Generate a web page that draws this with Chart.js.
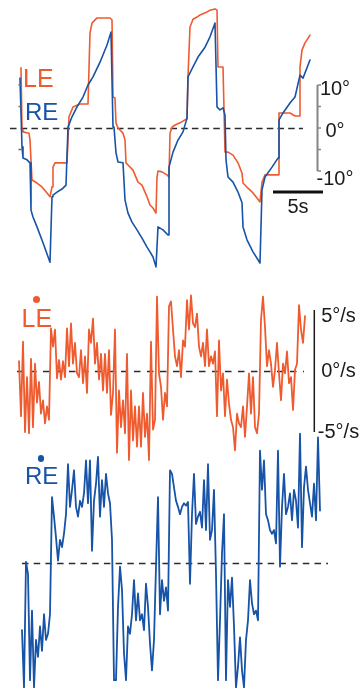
<!DOCTYPE html>
<html>
<head>
<meta charset="utf-8">
<script src="https://cdn.jsdelivr.net/npm/chart.js@4.4.0/dist/chart.umd.min.js"></script>
<style>
html,body{margin:0;padding:0;background:#fff;}
#wrap{position:relative;width:362px;height:688px;overflow:hidden;font-family:"Liberation Sans",Arial,Helvetica,sans-serif;}
canvas{position:absolute;left:0;}
.lbl{position:absolute;white-space:nowrap;line-height:1;}
.c{text-align:center;}
.dot{position:absolute;width:7px;height:7px;border-radius:50%;}
</style>
</head>
<body>
<div id="wrap">
  <canvas id="pos" width="362" height="280" style="top:0px"></canvas>
  <canvas id="vle" width="362" height="200" style="top:280px"></canvas>
  <canvas id="vre" width="362" height="268" style="top:420px"></canvas>

  <div class="lbl" style="left:23px;top:65.8px;font-size:25px;color:#EF5B2F">LE</div>
  <div class="lbl" style="left:25px;top:100.3px;font-size:24px;color:#1753A6">RE</div>
  <div class="lbl c" style="left:305px;width:60px;top:78.1px;font-size:20px;color:#1a1a1a">10°</div>
  <div class="lbl c" style="left:305px;width:60px;top:120.1px;font-size:20px;color:#1a1a1a">0°</div>
  <div class="lbl c" style="left:305px;width:60px;top:168.1px;font-size:20px;color:#1a1a1a">-10°</div>
  <div class="lbl c" style="left:268px;width:60px;top:196.1px;font-size:20px;color:#1a1a1a">5s</div>

  <div class="dot" style="left:32.5px;top:295.5px;background:#EF5B2F"></div>
  <div class="lbl" style="left:21.5px;top:306.3px;font-size:25px;color:#EF5B2F">LE</div>
  <div class="lbl c" style="left:303.5px;width:70px;top:304.6px;font-size:20px;color:#1a1a1a">5°/s</div>
  <div class="lbl c" style="left:303.5px;width:70px;top:359.6px;font-size:20px;color:#1a1a1a">0°/s</div>
  <div class="lbl c" style="left:303.5px;width:70px;top:421.1px;font-size:20px;color:#1a1a1a">-5°/s</div>

  <div class="dot" style="left:37.7px;top:455px;width:6.5px;height:6.5px;background:#1753A6"></div>
  <div class="lbl" style="left:25px;top:463.7px;font-size:24px;color:#1753A6">RE</div>
</div>
<script>
// ---------- data ----------
// eye position, time in s, angle in degrees
const LE_POS_T = [0.1,0.2,0.3,0.9,1.0,1.1,1.2,1.7,2.2,2.7,3.0,3.2,3.3,3.5,4.7,4.9,5.3,6.0,6.8,7.0,7.2,7.7,9.0,9.2,9.3,9.5,9.6,9.8,10.3,10.5,10.6,10.8,11.3,11.8,12.2,12.5,12.7,13.0,13.3,13.6,13.7,13.8,14.2,14.7,14.9,15.0,15.2,15.5,16.0,16.5,16.7,16.8,17.0,17.3,17.7,18.0,18.7,19.0,19.5,19.7,19.8,20.3,20.5,20.8,21.3,21.8,22.2,22.3,22.8,23.3,23.7,24.0,24.2,24.5,25.0,25.8,25.9,26.2,27.0,27.5,27.9,28.0,28.2,28.5,29.0];
const LE_POS = [14.0,-0.5,-0.9,-1.2,-2.8,-2.8,-12.1,-12.8,-13.7,-15.1,-16.0,-13.7,-9.1,-8.1,-8.1,2.6,4.9,5.6,5.6,22.1,24.4,25.6,25.6,25.1,7.2,7.0,1.2,0.0,-1.2,-2.8,-8.1,-8.6,-9.8,-12.6,-13.3,-14.9,-16.0,-17.9,-18.6,-19.8,-11.4,-10.0,-10.2,-10.9,-11.4,-1.2,0.2,0.7,1.2,1.9,2.1,11.9,23.5,25.3,25.8,26.3,27.0,27.4,27.7,27.4,14.2,14.2,-5.6,-5.6,-6.3,-8.1,-10.5,-12.8,-14.0,-15.1,-16.3,-17.2,-12.6,-10.9,-10.9,-10.9,3.5,3.5,3.5,2.8,2.8,14.2,18.1,19.8,21.6];

const RE_POS_T = [0.0,0.2,0.3,0.7,1.0,1.1,1.3,1.7,2.3,3.0,3.2,3.3,3.7,4.2,4.6,4.8,5.2,5.7,6.3,6.8,7.3,8.0,8.7,9.1,9.3,9.4,9.6,9.8,10.3,10.5,10.8,11.2,11.7,12.2,12.7,13.0,13.3,13.6,13.8,14.3,14.8,14.9,15.3,15.8,16.3,16.7,16.8,17.3,17.8,18.5,19.0,19.5,19.7,20.0,20.3,20.5,20.6,20.8,21.3,21.8,22.2,22.3,22.7,23.3,24.0,24.2,24.5,25.2,25.8,25.9,26.3,27.0,27.5,28.0,28.3,29.0];
const RE_POS = [11.6,-4.4,-7.0,-7.4,-8.1,-19.1,-20.7,-23.0,-26.7,-31.2,-16.0,-15.6,-14.9,-14.2,-13.3,0.2,2.6,4.9,7.2,10.0,11.9,15.3,19.3,22.3,0.2,0.2,-5.8,-7.9,-8.1,-16.7,-19.8,-21.9,-23.7,-25.6,-27.7,-28.8,-30.0,-32.3,-23.0,-23.7,-24.9,-9.1,-5.6,-2.8,-0.9,2.3,11.9,14.2,16.5,18.8,21.2,24.4,4.9,4.2,4.7,3.0,-7.4,-11.4,-12.6,-14.9,-17.4,-23.0,-26.0,-28.8,-31.4,-14.4,-11.4,-9.1,-7.0,1.9,3.5,5.8,7.2,12.3,11.6,15.8];

// eye velocity in deg/s, sampled every VEL_DT seconds
const VEL_DT = 0.2;
const LE_VEL_T0 = -0.1;
const LE_VEL = [0.8,-3.7,2.4,-5.0,-0.5,-5.1,1.0,-4.6,0.6,-2.6,-0.9,-3.5,-2.4,-4.3,-2.9,-4.0,3.5,2.0,3.4,-0.6,0.9,-0.7,0.8,-0.5,3.5,0.4,3.9,0.6,2.3,-0.2,-0.5,1.7,-1.0,1.2,-1.8,3.4,2.3,4.3,0.6,2.3,-0.7,1.4,-1.6,1.4,-1.8,1.7,-3.6,-1.8,3.4,-6.7,-1.6,-4.6,-2.4,-5.1,1.4,-7.3,-1.6,-5.7,-2.9,-6.2,-2.9,-6.2,-1.8,-5.4,-3.5,-7.3,2.4,-4.8,-4.0,6.1,-0.2,-1.3,-4.0,-1.8,-2.9,5.3,5.7,3.4,1.2,0.4,1.7,
  -0.5,2.5,2.0,5.8,3.4,6.2,3.9,3.6,4.7,2.0,1.2,2.3,0.4,3.4,0.4,1.2,0.6,1.6,-3.7,2.5,-1.6,-0.2,-3.7,-0.7,-2.7,-4.0,-4.6,-6.5,-3.5,-4.3,-4.6,-2.9,-5.4,-2.9,-0.2,-3.5,-0.5,-4.6,-5.1,-3.5,4.2,6.1,3.6,0.4,1.7,0.6,-1.3,0.1,2.3,-0.2,-2.4,0.6,-0.2,1.6,-1.0,-0.5,-3.2,0.1,0.6,5.4,3.4,2.3,4.5];
const RE_VEL_T0 = 0.2;
const RE_VEL = [-5.5,-10.2,0.1,-0.9,-9.6,-3.9,-10.2,-6.3,-7.7,-5.2,-7.2,-4.2,-6.3,-5.8,-4.2,5.4,3.8,2.1,0.2,1.9,1.3,2.4,4.0,8.1,4.6,6.0,7.6,4.6,3.8,5.1,4.6,5.7,8.4,4.9,8.4,1.0,5.1,6.5,8.7,3.8,6.8,4.6,7.3,5.7,4.9,1.9,-9.6,-9.6,-3.6,-0.3,-2.2,-7.4,-9.6,-5.2,-5.8,-4.2,-1.4,-4.7,-2.5,-4.7,-4.2,-5.5,-1.7,-3.6,-6.6,-8.8,-6.3,-0.3,5.4,-4.2,-1.4,-3.1,-2.0,-3.9,7.6,7.3,6.2,5.1,4.6,4.0,
  4.6,4.9,4.7,5.0,-1.7,4.0,7.3,3.2,3.8,4.2,2.9,6.8,2.7,8.1,1.9,2.7,6.0,-0.9,-9.6,-4.7,0.8,4.0,-9.6,-1.4,-3.6,-1.2,-5.2,-10.2,-8.5,-6.1,-8.8,-10.2,-6.3,-4.7,-1.4,-3.3,-4.2,-3.9,-4.7,9.2,6.0,8.4,4.0,3.5,2.7,2.4,2.7,1.6,9.2,-0.3,4.6,7.3,4.0,4.6,5.7,3.5,6.0,5.1,2.9,10.6,1.3,6.2,7.9,6.0,4.9,3.8,6.5,3.5,10.3,4.3];

// scale-bar values
const POS_TICKS = [10, 5, 0, -5, -10];
const VEL_BAR = [5, -5];
const TIME_BAR = [25.3, 30.3];

// ---------- styling / layout ----------
const ORANGE = '#EF5B2F';
const BLUE = '#1753A6';
const X_MIN = -2.0, X_MAX = 34.2;

function pairs(ts, vs){ return vs.map((v,i)=>({x:ts[i], y:v})); }
function sampled(t0, vs){ return vs.map((v,i)=>({x:+(t0 + i*VEL_DT).toFixed(2), y:v})); }

function dashedZero(chart, t1, t2, dash){
  const {ctx, scales:{x, y}} = chart;
  ctx.save();
  ctx.strokeStyle = '#2b2b2b';
  ctx.lineWidth = 1.5;
  ctx.setLineDash(dash);
  const py = Math.round(y.getPixelForValue(0)) + 0.5;
  ctx.beginPath();
  ctx.moveTo(x.getPixelForValue(t1), py);
  ctx.lineTo(x.getPixelForValue(t2), py);
  ctx.stroke();
  ctx.restore();
}
function seg(ctx, x1, y1, x2, y2, color, w){
  ctx.save();
  ctx.strokeStyle = color; ctx.lineWidth = w; ctx.lineCap = 'butt';
  ctx.beginPath(); ctx.moveTo(x1, y1); ctx.lineTo(x2, y2); ctx.stroke();
  ctx.restore();
}

const posDecor = {
  id:'posDecor',
  beforeDatasetsDraw(chart){ dashedZero(chart, -1.0, 28.3, [6.5, 4.2]); },
  afterDatasetsDraw(chart){
    const {ctx, scales:{x, y}} = chart;
    const ax = 317.5;
    seg(ctx, ax, y.getPixelForValue(POS_TICKS[0]), ax, y.getPixelForValue(POS_TICKS[POS_TICKS.length-1]), '#858585', 2);
    POS_TICKS.forEach(v => {
      const py = y.getPixelForValue(v);
      seg(ctx, ax, py, ax + 3.5, py, '#858585', 1.5);
    });
    [10, 5, -5].forEach(v => {
      const py = y.getPixelForValue(v);
      seg(ctx, 18.5, py, 21.5, py, '#6a6a6a', 1.5);
    });
    seg(ctx, x.getPixelForValue(TIME_BAR[0]), 192, x.getPixelForValue(TIME_BAR[1]), 192, '#111', 3);
  }
};
const vleDecor = {
  id:'vleDecor',
  beforeDatasetsDraw(chart){ dashedZero(chart, -0.3, 28.4, [6.5, 6.5]); },
  afterDatasetsDraw(chart){
    const {ctx, scales:{y}} = chart;
    seg(ctx, 314.3, y.getPixelForValue(VEL_BAR[0]), 314.3, y.getPixelForValue(VEL_BAR[1]), '#1a1a1a', 1.5);
  }
};
const vreDecor = {
  id:'vreDecor',
  beforeDatasetsDraw(chart){ dashedZero(chart, 0.2, 30.8, [6.5, 5.2]); }
};

function makeChart(id, datasets, ymin, ymax, plugin){
  return new Chart(document.getElementById(id), {
    type:'line',
    data:{datasets},
    options:{
      responsive:false, animation:false, devicePixelRatio:1, events:[],
      layout:{padding:0},
      plugins:{legend:{display:false}, tooltip:{enabled:false}},
      scales:{
        x:{type:'linear', min:X_MIN, max:X_MAX, display:false},
        y:{type:'linear', min:ymin, max:ymax, display:false}
      },
      elements:{point:{radius:0}, line:{tension:0, borderJoinStyle:'round', borderCapStyle:'round'}}
    },
    plugins:[plugin]
  });
}

makeChart('pos', [
  {data:pairs(RE_POS_T, RE_POS), borderColor:BLUE, borderWidth:1.6, fill:false, clip:false},
  {data:pairs(LE_POS_T, LE_POS), borderColor:ORANGE, borderWidth:1.6, fill:false, clip:false}
], -35.35, 29.77, posDecor);

makeChart('vle', [
  {data:sampled(LE_VEL_T0, LE_VEL), borderColor:ORANGE, borderWidth:1.8, fill:false, clip:false}
], -8.934, 7.459, vleDecor);

makeChart('vre', [
  {data:sampled(RE_VEL_T0, RE_VEL), borderColor:BLUE, borderWidth:1.8, fill:false, clip:false}
], -10.246, 11.721, vreDecor);
</script>
</body>
</html>
